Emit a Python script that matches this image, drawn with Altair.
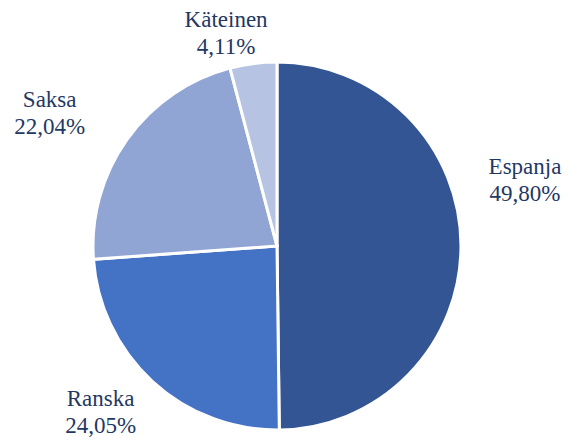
import altair as alt
import pandas as pd

categories = ["Espanja", "Ranska", "Saksa", "Käteinen"]
values = [49.80, 24.05, 22.04, 4.11]
colors = ["#335593", "#4472C4", "#91A5D5", "#B7C3E3"]

labels = [[c, f"{v:.2f}".replace(".", ",") + "%"] for c, v in zip(categories, values)]
df = pd.DataFrame({"cat": categories, "val": values, "label": labels,
                   "order": list(range(len(categories)))})

color_scale = alt.Scale(domain=categories, range=colors)
theta_scale = alt.Scale(domain=[0, 100], range=[0, 6.283185307179586])

base = alt.Chart(df).transform_window(
    cum="sum(val)", sort=[alt.SortField("order")], frame=[None, 0]
).transform_calculate(
    start="datum.cum - datum.val",
    mid="datum.cum - datum.val / 2",
)

pie = base.mark_arc(stroke="white", strokeWidth=3, outerRadius=184).encode(
    theta=alt.Theta("start:Q", scale=theta_scale),
    theta2="cum:Q",
    color=alt.Color("cat:N", scale=color_scale, legend=None),
)

# per-label nudges (Excel-like best-fit placement)
nudges = {"Espanja": (8, -77), "Ranska": (-14, -24), "Saksa": (-32, -7), "Käteinen": (-20, 12)}

layers = [pie]
for cat, (dx, dy) in nudges.items():
    layers.append(
        base.transform_filter(alt.datum.cat == cat)
        .mark_text(radius=240, dx=dx, dy=dy, font="Liberation Serif",
                   fontSize=23, lineHeight=27, color="#1F3864",
                   align="center", baseline="middle")
        .encode(theta=alt.Theta("mid:Q", scale=theta_scale), text="label")
    )

chart = alt.layer(*layers).properties(
    width=368, height=368,
    padding={"left": 93, "top": 62, "right": 119, "bottom": 9},
    autosize=alt.AutoSizeParams(type="none"),
).configure_view(stroke=None).configure(background="white")

chart.save("out.html", embed_options={"renderer": "svg", "actions": False})
